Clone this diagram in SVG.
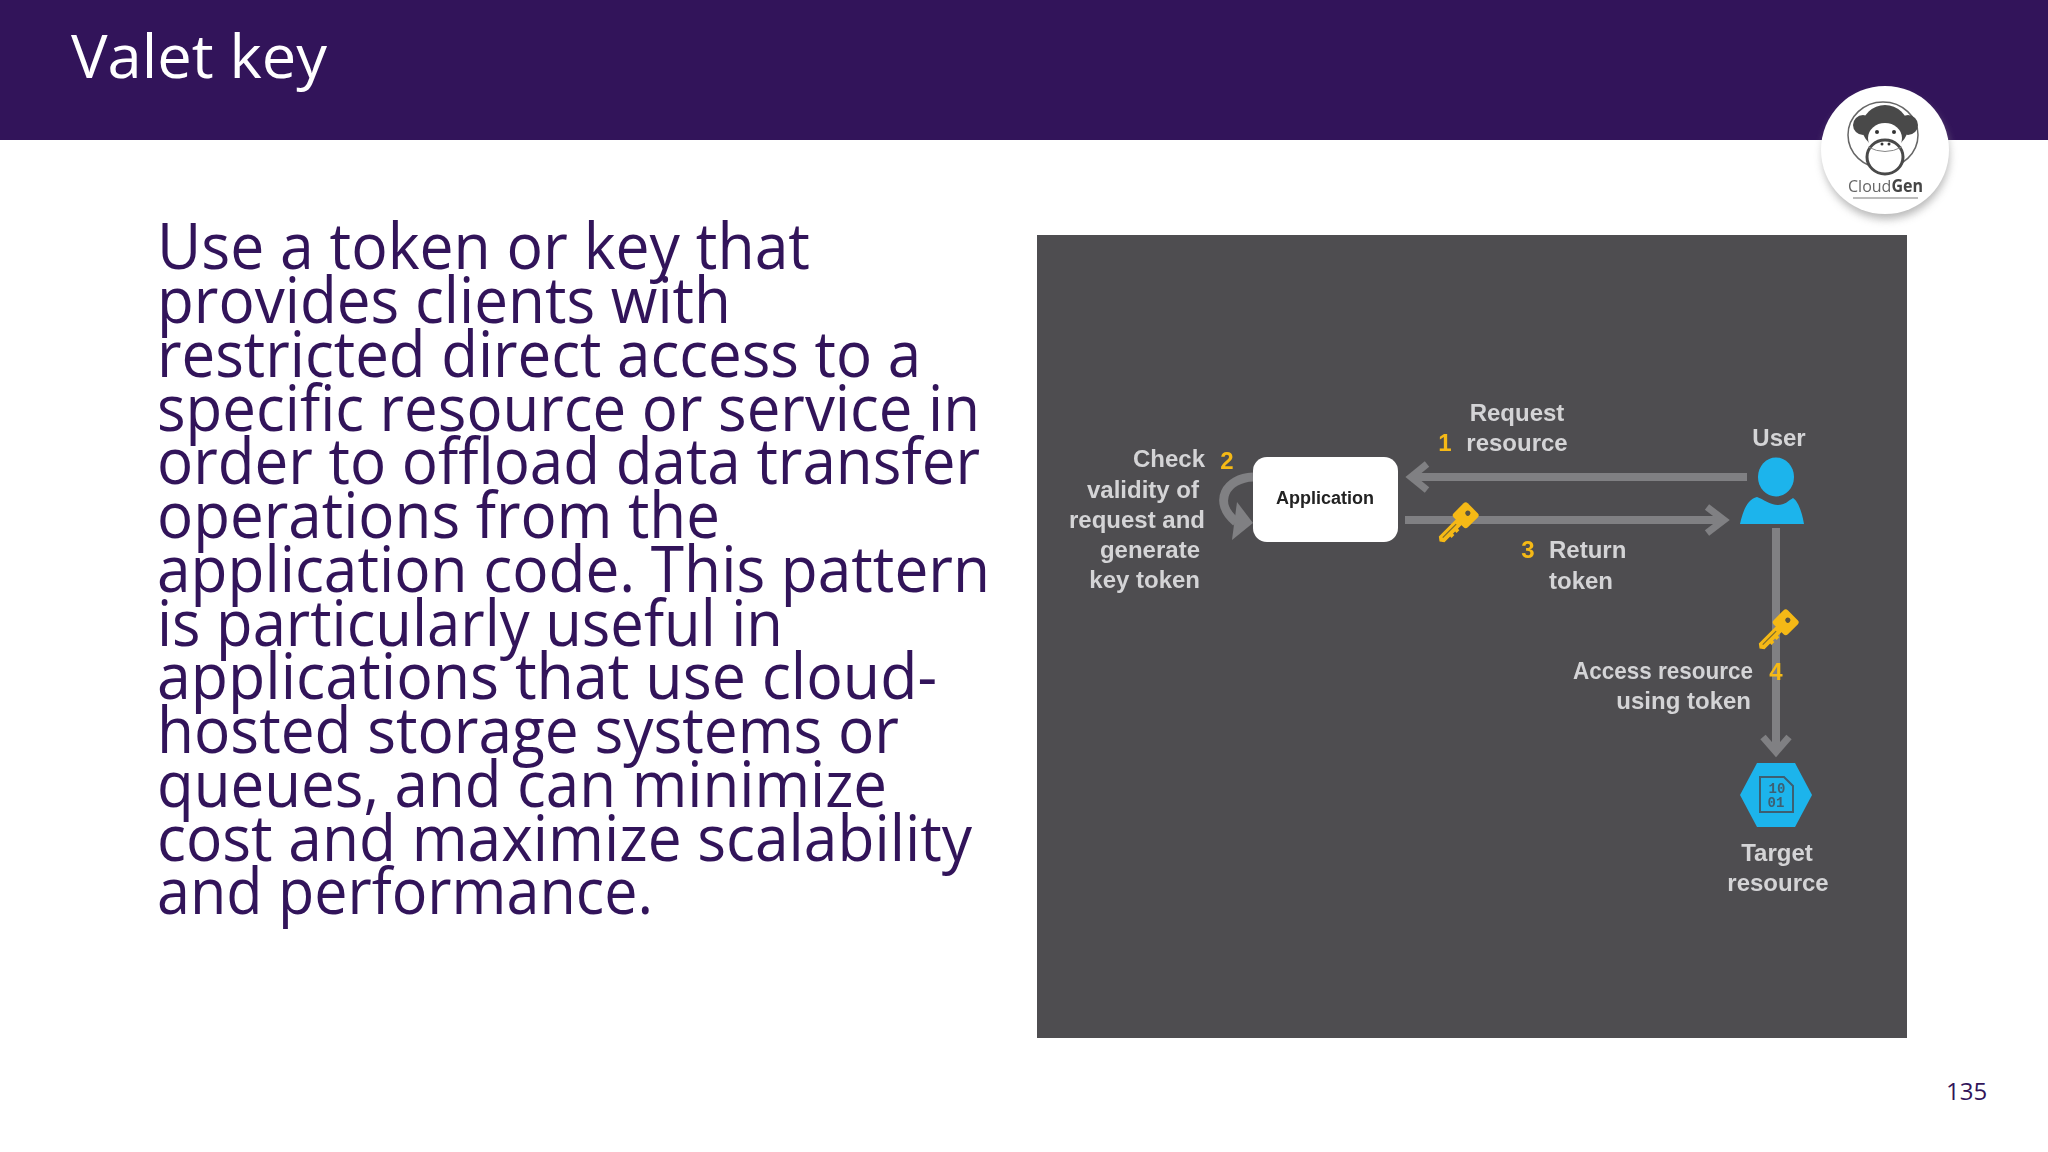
<svg xmlns="http://www.w3.org/2000/svg" width="2048" height="1152" viewBox="0 0 2048 1152">
<style>
.b{font-family:"Open Sans","Noto Sans",sans-serif;font-size:64px;fill:#32145a}
.l{font-family:"Liberation Sans",Arial,sans-serif;font-size:24px;font-weight:700;fill:#d4d4d6}
.n{font-family:"Liberation Sans",Arial,sans-serif;font-size:24px;font-weight:700;fill:#f5b914}
.c{fill:none;stroke:#808083;stroke-width:8}
.h{fill:none;stroke:#808083;stroke-width:7}
.k{fill:#f5b914}
.m{fill:#4a4a4a}
</style>
<defs>
<filter id="soft" x="-5%" y="-5%" width="110%" height="110%"><feGaussianBlur stdDeviation="0.6"/></filter>
<filter id="shadow" x="-20%" y="-20%" width="140%" height="140%"><feGaussianBlur stdDeviation="4"/></filter>
<g id="key"><g transform="rotate(45)">
<rect class="k" x="-10" y="-11" width="20" height="20" rx="3"/>
<path class="k" d="M-4 8H4V14H6V18H4V21H6V25H4V33L0 36-4 33z"/>
<path d="M-0.5 12V31" stroke="#7a6a30" stroke-width="1.2" fill="none"/>
<circle cx="0" cy="-4" r="2.6" fill="#5a5240"/>
</g></g>
</defs>
<rect width="2048" height="1152" fill="#fff"/>
<rect id="header" width="2048" height="140" fill="#32145a"/>
<text x="71" y="78" font-family="'Open Sans','Noto Sans',sans-serif" font-size="60" fill="#fff" textLength="256" lengthAdjust="spacingAndGlyphs">Valet key</text>
<g id="logo">
<circle cx="1886" cy="156" r="63" fill="#999" opacity=".7" filter="url(#shadow)"/>
<g filter="url(#soft)">
<circle cx="1885" cy="150" r="64" fill="#fff"/>
<ellipse cx="1883" cy="135" rx="35" ry="33" fill="none" stroke="#666" stroke-width="1.5"/>
<circle class="m" cx="1863" cy="125" r="10"/><circle class="m" cx="1908" cy="125" r="10"/>
<ellipse class="m" cx="1885" cy="127" rx="23" ry="22"/>
<ellipse cx="1885" cy="138" rx="17" ry="15" fill="#fff"/>
<circle cx="1877" cy="132" r="2" fill="#333"/><circle cx="1894" cy="132" r="2" fill="#333"/>
<ellipse cx="1885" cy="157" rx="18" ry="17" fill="#fff" stroke="#4a4a4a" stroke-width="3"/>
<path d="M1868 147Q1885 156 1902 147" fill="none" stroke="#888" stroke-width="1"/>
<circle cx="1882" cy="144" r="1.5" fill="#333"/><circle cx="1889" cy="144" r="1.5" fill="#333"/>
<text x="1848" y="192" font-family="'Open Sans',sans-serif" font-size="17" fill="#666" textLength="75" lengthAdjust="spacingAndGlyphs">Cloud<tspan font-weight="700" fill="#444">Gen</tspan></text>
<path d="M1853 198H1918" stroke="#bbb" stroke-width="2"/>
</g>
</g>
<g id="body" class="b">
<text x="157" y="269" textLength="653" lengthAdjust="spacingAndGlyphs">Use a token or key that</text>
<text x="157" y="323" textLength="574" lengthAdjust="spacingAndGlyphs">provides clients with</text>
<text x="157" y="377" textLength="764" lengthAdjust="spacingAndGlyphs">restricted direct access to a</text>
<text x="157" y="431" textLength="823" lengthAdjust="spacingAndGlyphs">specific resource or service in</text>
<text x="157" y="484" textLength="823" lengthAdjust="spacingAndGlyphs">order to offload data transfer</text>
<text x="157" y="538" textLength="563" lengthAdjust="spacingAndGlyphs">operations from the</text>
<text x="157" y="592" textLength="833" lengthAdjust="spacingAndGlyphs">application code. This pattern</text>
<text x="157" y="646" textLength="626" lengthAdjust="spacingAndGlyphs">is particularly useful in</text>
<text x="157" y="699" textLength="780" lengthAdjust="spacingAndGlyphs">applications that use cloud-</text>
<text x="157" y="753" textLength="742" lengthAdjust="spacingAndGlyphs">hosted storage systems or</text>
<text x="157" y="807" textLength="730" lengthAdjust="spacingAndGlyphs">queues, and can minimize</text>
<text x="157" y="861" textLength="815" lengthAdjust="spacingAndGlyphs">cost and maximize scalability</text>
<text x="157" y="914" textLength="496" lengthAdjust="spacingAndGlyphs">and performance.</text>
</g>
<rect id="panel" x="1037" y="235" width="870" height="803" fill="#4e4d50"/>
<g filter="url(#soft)">
<g id="connectors">
<path class="c" d="M1747 477H1412"/><path class="h" d="M1427 464l-16 13 16 13"/>
<path class="c" d="M1405 520H1722"/><path class="h" d="M1707 507l17 13-17 13"/>
<path class="c" d="M1776 528V748"/><path class="h" d="M1763 737l13 15 13-15"/>
<path d="M1253 477C1226 478 1212 502 1236 522" fill="none" stroke="#808083" stroke-width="9"/>
<path d="M1237 502L1253 523 1232 540z" fill="#808083"/>
</g>
<g id="application"><rect x="1253" y="457" width="145" height="85" rx="14" fill="#fff"/>
<text x="1325" y="504" text-anchor="middle" font-family="'Liberation Sans',sans-serif" font-size="18" font-weight="700" fill="#222" textLength="98" lengthAdjust="spacing">Application</text></g>
<g id="user"><ellipse cx="1776" cy="477" rx="18" ry="19.5" fill="#1fb4ec"/>
<path d="M1740 524C1743 510 1748 499 1757 497C1763 499 1770 505 1778 505C1785 505 1788 501 1793 498C1798 501 1802 512 1804 524z" fill="#1fb4ec"/>
<text x="1779" y="446" text-anchor="middle" class="l">User</text></g>
<g id="target"><path d="M1757 763H1795L1812 795 1795 827H1757L1740 795z" fill="#1fb4ec"/>
<path d="M1760 777H1784L1793 786V812H1760z" fill="none" stroke="#3d5f72" stroke-width="2"/>
<text x="1777" y="793" text-anchor="middle" font-family="'Liberation Mono',monospace" font-size="14" font-weight="700" fill="#3d5f72">10</text>
<text x="1776" y="807" text-anchor="middle" font-family="'Liberation Mono',monospace" font-size="14" font-weight="700" fill="#3d5f72">01</text>
<text x="1777" y="861" text-anchor="middle" class="l">Target</text>
<text x="1778" y="891" text-anchor="middle" class="l">resource</text></g>
<use href="#key" x="1465" y="516"/>
<use href="#key" x="1785" y="623"/>
<g id="labels">
<text x="1517" y="421" text-anchor="middle" class="l">Request</text>
<text x="1517" y="451" text-anchor="middle" class="l">resource</text>
<text x="1445" y="451" text-anchor="middle" class="n">1</text>
<text x="1205" y="467" text-anchor="end" class="l">Check</text>
<text x="1227" y="469" text-anchor="middle" class="n">2</text>
<text x="1199" y="498" text-anchor="end" class="l">validity of</text>
<text x="1205" y="528" text-anchor="end" class="l">request and</text>
<text x="1200" y="558" text-anchor="end" class="l">generate</text>
<text x="1200" y="588" text-anchor="end" class="l">key token</text>
<text x="1528" y="558" text-anchor="middle" class="n">3</text>
<text x="1549" y="558" class="l">Return</text>
<text x="1549" y="589" class="l">token</text>
<text x="1573" y="679" class="l" textLength="180" lengthAdjust="spacingAndGlyphs">Access resource</text>
<text x="1776" y="680" text-anchor="middle" class="n">4</text>
<text x="1751" y="709" text-anchor="end" class="l">using token</text>
</g>
</g>
<text id="page" x="1946" y="1100" font-family="'Open Sans',sans-serif" font-size="24" fill="#32145a">135</text>
</svg>
